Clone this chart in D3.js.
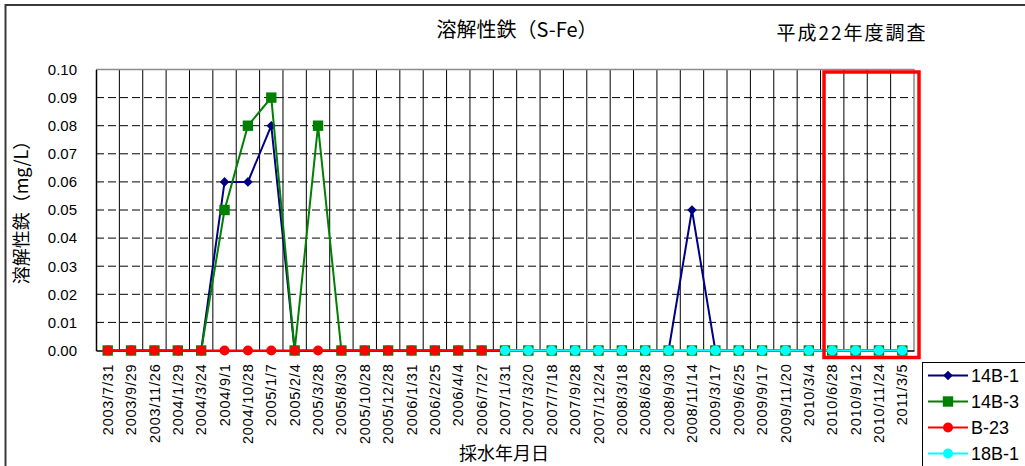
<!DOCTYPE html>
<html>
<head>
<meta charset="utf-8">
<script src="https://cdn.jsdelivr.net/npm/d3@7"></script>
<style>
  html, body { margin: 0; padding: 0; background: #fff; }
  svg { display: block; }
  .cjk { font-family: "Noto Sans CJK JP", "Noto Sans", sans-serif; fill: #000; }
  .lat { font-family: "Liberation Sans", Arial, sans-serif; fill: #000; }
</style>
</head>
<body>
<svg id="chart" width="1025" height="466"></svg>
<script>
// Sampling dates (category axis)
const categories = [
  "2003/7/31", "2003/9/29", "2003/11/26", "2004/1/29", "2004/3/24",
  "2004/9/1", "2004/10/28", "2005/1/7", "2005/2/4", "2005/3/28",
  "2005/8/30", "2005/10/28", "2005/12/28", "2006/1/31", "2006/2/25",
  "2006/4/4", "2006/7/27", "2007/1/31", "2007/3/20", "2007/7/18",
  "2007/9/28", "2007/12/24", "2008/3/18", "2008/6/28", "2008/9/30",
  "2008/11/14", "2009/3/17", "2009/6/25", "2009/9/17", "2009/11/20",
  "2010/3/4", "2010/6/28", "2010/9/12", "2010/11/24", "2011/3/5"
];

// Dissolved iron (mg/L) per well; null = not sampled
const well14B1 = [0, 0, 0, 0, 0, 0.06, 0.06, 0.08, 0, 0,
                  0, 0, 0, 0, 0, 0, 0, 0, 0, 0,
                  0, 0, 0, 0, 0, 0.05, 0, 0, 0, 0,
                  0, 0, 0, 0, 0];
const well14B3 = [0, 0, 0, 0, 0, 0.05, 0.08, 0.09, 0, 0.08,
                  0, 0, 0, 0, 0, 0, 0, 0, 0, 0,
                  0, 0, 0, 0, 0, 0, 0, 0, 0, 0,
                  0, 0, 0, 0, 0];
const wellB23 = [0, 0, 0, 0, 0, 0, 0, 0, 0, 0,
                 0, 0, 0, 0, 0, 0, 0, 0, null, null,
                 null, null, null, null, null, null, null, null, null, null,
                 null, null, null, null, null];
const well18B1 = [null, null, null, null, null, null, null, null, null, null,
                  null, null, null, null, null, null, null, 0, 0, 0,
                  0, 0, 0, 0, 0, 0, 0, 0, 0, 0,
                  0, 0, 0, 0, 0];

const seriesNames = ["14B-1", "14B-3", "B-23", "18B-1"];
const yTicks = [0, 0.01, 0.02, 0.03, 0.04, 0.05, 0.06, 0.07, 0.08, 0.09, 0.10];
const titleText = "溶解性鉄（S-Fe）";
const yearText = "平成22年度調査";
const yAxisTitle = "溶解性鉄（mg/L）";
const xAxisTitle = "採水年月日";
// Survey year highlighted with a frame
const highlightStart = "2010/6/28";

const series = [
  { name: seriesNames[0], values: well14B1, color: "#000080", marker: "diamond" },
  { name: seriesNames[1], values: well14B3, color: "#008000", marker: "square" },
  { name: seriesNames[2], values: wellB23, color: "#FF0000", marker: "circle" },
  { name: seriesNames[3], values: well18B1, color: "#00FFFF", marker: "circle" }
];

const svg = d3.select("#chart");
const plot = { left: 96, right: 914, top: 69.5, bottom: 350.5 };

const x = d3.scaleBand().domain(categories).range([plot.left, plot.right]);
const y = d3.scaleLinear().domain([0, 0.10]).range([plot.bottom, plot.top]);
const cx = c => x(c) + x.bandwidth() / 2;

// Outer chart frame
svg.append("rect")
  .attr("x", 5.5).attr("y", 5).attr("width", 1040).attr("height", 480)
  .attr("fill", "none").attr("stroke", "#3a3a3a").attr("stroke-width", 2);

// Horizontal dashed gridlines
svg.append("g").selectAll("line")
  .data(yTicks.slice(1))
  .join("line")
  .attr("x1", plot.left).attr("x2", plot.right)
  .attr("y1", d => y(d)).attr("y2", d => y(d))
  .attr("stroke", "#000").attr("stroke-width", 1)
  .attr("stroke-dasharray", "8,4");

// Vertical gridlines at category boundaries
svg.append("g").selectAll("line")
  .data(categories.slice(1))
  .join("line")
  .attr("x1", d => x(d)).attr("x2", d => x(d))
  .attr("y1", plot.top).attr("y2", plot.bottom)
  .attr("stroke", "#000").attr("stroke-width", 1);

// Plot area border (top/right grey)
svg.append("path")
  .attr("d", `M${plot.left},${plot.top}H${plot.right}V${plot.bottom}`)
  .attr("fill", "none").attr("stroke", "#8c8c8c").attr("stroke-width", 1.5);

// Y axis
const yAxis = d3.axisLeft(y).tickValues(yTicks).tickFormat(d3.format(".2f"))
  .tickSize(0).tickPadding(19);
const gy = svg.append("g").attr("transform", `translate(${plot.left},0)`).call(yAxis);
gy.select(".domain").attr("stroke", "#000").attr("stroke-width", 1.5);
gy.selectAll("text").attr("class", "lat").style("font-size", "15px")
  .attr("font-family", null);

// X axis
const xAxis = d3.axisBottom(x).tickSize(0).tickPadding(0);
const gx = svg.append("g").attr("transform", `translate(0,${plot.bottom})`).call(xAxis);
gx.select(".domain").attr("stroke", "#000").attr("stroke-width", 1.5);
gx.selectAll("text")
  .attr("class", "lat")
  .attr("font-family", null)
  .style("font-size", "14.5px")
  .style("letter-spacing", "0.8px")
  .attr("text-anchor", "end")
  .attr("dy", "0.35em")
  .attr("x", -13).attr("y", 0)
  .attr("transform", "rotate(-90)");

// Series: line then markers, drawn in legend order
const line = d3.line()
  .defined(d => d.v !== null)
  .x(d => cx(d.c))
  .y(d => y(d.v));

function markerPath(type) {
  if (type === "diamond") return "M0,-4.8L4.8,0L0,4.8L-4.8,0Z";
  if (type === "square") return "M-5.2,-5.2H5.2V5.2H-5.2Z";
  return d3.symbol(d3.symbolCircle, Math.PI * 25)();
}

series.forEach(s => {
  const pts = categories.map((c, i) => ({ c, v: s.values[i] }));
  const g = svg.append("g");
  g.append("path")
    .datum(pts)
    .attr("d", line)
    .attr("fill", "none")
    .attr("stroke", s.color)
    .attr("stroke-width", 2);
  g.selectAll("path.m")
    .data(pts.filter(d => d.v !== null))
    .join("path")
    .attr("class", "m")
    .attr("d", markerPath(s.marker))
    .attr("transform", d => `translate(${cx(d.c)},${y(d.v)})`)
    .attr("fill", s.color);
});

// Highlight frame around the current survey year
const hx0 = x(highlightStart) + 3.5;
const hx1 = plot.right + 5;
svg.append("rect")
  .attr("x", hx0).attr("y", plot.top + 2.5)
  .attr("width", hx1 - hx0).attr("height", plot.bottom - plot.top + 4.5)
  .attr("fill", "none").attr("stroke", "#FF0000").attr("stroke-width", 3.5);

// Titles
svg.append("text").attr("class", "cjk")
  .attr("x", 517).attr("y", 37).attr("text-anchor", "middle")
  .style("font-size", "20px").text(titleText);
svg.append("text").attr("class", "cjk")
  .attr("x", 852).attr("y", 40).attr("text-anchor", "middle")
  .style("font-size", "19px").style("letter-spacing", "2px").text(yearText);
svg.append("text").attr("class", "cjk")
  .attr("transform", "translate(20,208) rotate(-90)")
  .attr("text-anchor", "middle").attr("dominant-baseline", "central")
  .style("font-size", "18px").text(yAxisTitle);
svg.append("text").attr("class", "cjk")
  .attr("x", 504).attr("y", 452).attr("text-anchor", "middle")
  .attr("dominant-baseline", "central")
  .style("font-size", "18px").text(xAxisTitle);

// Legend
const legend = svg.append("g");
legend.append("rect")
  .attr("x", 922.5).attr("y", 362.5).attr("width", 120).attr("height", 120)
  .attr("fill", "#fff").attr("stroke", "#000").attr("stroke-width", 1);
series.forEach((s, i) => {
  const ly = 375.5 + i * 26;
  const g = legend.append("g");
  g.append("line").attr("x1", 928).attr("x2", 968).attr("y1", ly).attr("y2", ly)
    .attr("stroke", s.color).attr("stroke-width", 2);
  g.append("path").attr("d", markerPath(s.marker))
    .attr("transform", `translate(948,${ly})`).attr("fill", s.color);
  g.append("text").attr("class", "lat")
    .attr("x", 971).attr("y", ly).attr("dominant-baseline", "central")
    .style("font-size", "18px").text(s.name);
});
</script>
</body>
</html>
